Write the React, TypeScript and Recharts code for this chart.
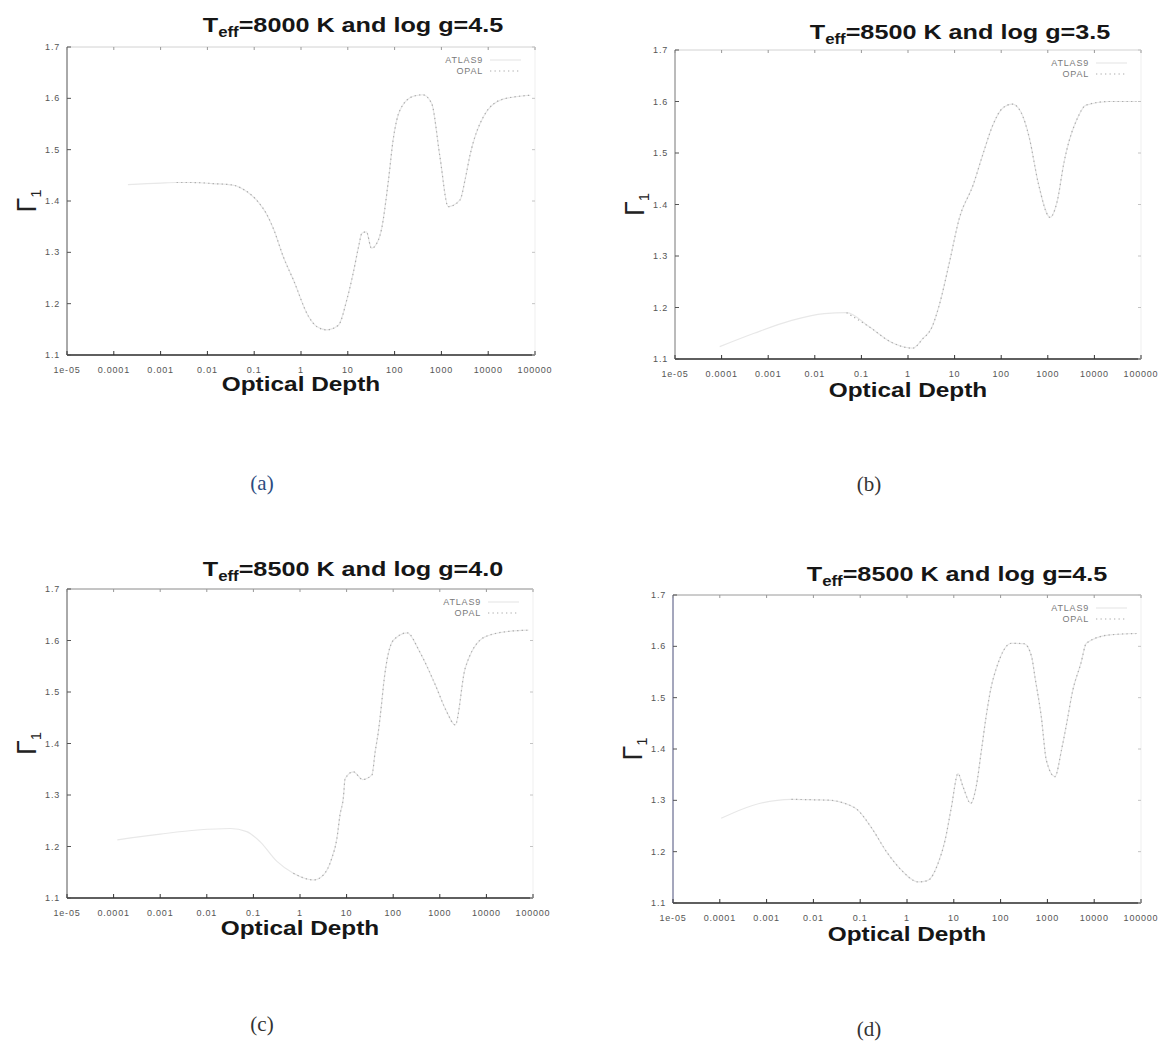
import React from 'react';
import { LineChart, Line, XAxis, YAxis, ReferenceLine } from 'recharts';

const FONT = '"Liberation Sans", Arial, Helvetica, sans-serif';
const SERIF = '"Liberation Serif", "DejaVu Serif", serif';

// Shared axes
const TAU_TICKS = [1e-5, 1e-4, 1e-3, 1e-2, 1e-1, 1, 10, 100, 1000, 10000, 100000];
const TAU_TICK_LABELS = ['1e-05', '0.0001', '0.001', '0.01', '0.1', '1', '10', '100', '1000', '10000', '100000'];
const GAMMA_TICKS = [1.1, 1.2, 1.3, 1.4, 1.5, 1.6, 1.7];
const GAMMA_TICK_LABELS = ['1.1', '1.2', '1.3', '1.4', '1.5', '1.6', '1.7'];
const SERIES_NAMES = ['ATLAS9', 'OPAL'];

// (a) Teff = 8000 K, log g = 4.5
const TAU_A = [2.0e-4, 1.0e-3, 2.2e-3, 5.0e-3, 1.3e-2, 3.5e-2, 6.3e-2, 0.13, 0.18, 0.26, 0.42, 0.69, 1.45, 2.2, 3.5, 6.3, 9.5, 13, 17, 20, 25, 32, 45, 52, 74, 93, 130, 250, 400, 620, 930, 1400, 2500, 3200, 4100, 8000, 20000, 80000];
const ATLAS_A = [1.432, 1.435, 1.436, 1.436, 1.434, 1.431, 1.421, 1.395, 1.376, 1.345, 1.291, 1.246, 1.175, 1.155, 1.149, 1.158, 1.207, 1.259, 1.311, 1.337, 1.340, 1.308, 1.324, 1.343, 1.441, 1.519, 1.577, 1.604, 1.607, 1.590, 1.486, 1.389, 1.402, 1.441, 1.490, 1.565, 1.598, 1.606];
const OPAL_A = [null, null, 1.436, 1.436, 1.434, 1.431, 1.421, 1.395, 1.376, 1.345, 1.291, 1.246, 1.175, 1.155, 1.149, 1.158, 1.207, 1.259, 1.311, 1.337, 1.340, 1.308, 1.324, 1.343, 1.441, 1.519, 1.577, 1.604, 1.607, 1.590, 1.486, 1.389, 1.402, 1.441, 1.490, 1.565, 1.598, 1.606];

// (b) Teff = 8500 K, log g = 3.5
const TAU_B = [9.1e-5, 5.0e-4, 3.2e-3, 1.6e-2, 4.8e-2, 0.15, 0.45, 1.26, 2.1, 3.2, 4.7, 7.8, 12.6, 25, 40, 66, 107, 174, 263, 400, 630, 1120, 1580, 2240, 2800, 4200, 6600, 20000, 80000];
const ATLAS_B = [1.124, 1.150, 1.175, 1.188, 1.190, 1.162, 1.132, 1.121, 1.140, 1.160, 1.205, 1.289, 1.373, 1.438, 1.496, 1.554, 1.587, 1.595, 1.580, 1.530, 1.440, 1.375, 1.405, 1.483, 1.520, 1.565, 1.593, 1.600, 1.600];
const OPAL_B = [null, null, null, null, 1.190, 1.162, 1.132, 1.121, 1.140, 1.160, 1.205, 1.289, 1.373, 1.438, 1.496, 1.554, 1.587, 1.595, 1.580, 1.530, 1.440, 1.375, 1.405, 1.483, 1.520, 1.565, 1.593, 1.600, 1.600];

// (c) Teff = 8500 K, log g = 4.0
const TAU_C = [1.2e-4, 1.0e-3, 6.3e-3, 3.2e-2, 7.2e-2, 0.14, 0.32, 0.72, 1.95, 3.2, 4.8, 6.2, 7.2, 8.5, 9.3, 14, 22, 35, 41, 48, 56, 62, 100, 200, 370, 790, 1400, 2140, 3500, 9300, 32000, 80000];
const ATLAS_C = [1.213, 1.224, 1.232, 1.235, 1.229, 1.209, 1.171, 1.148, 1.135, 1.145, 1.177, 1.216, 1.261, 1.294, 1.332, 1.345, 1.330, 1.339, 1.384, 1.423, 1.475, 1.514, 1.600, 1.615, 1.578, 1.515, 1.462, 1.436, 1.546, 1.607, 1.618, 1.620];
const OPAL_C = [null, null, null, null, null, null, null, 1.148, 1.135, 1.145, 1.177, 1.216, 1.261, 1.294, 1.332, 1.345, 1.330, 1.339, 1.384, 1.423, 1.475, 1.514, 1.600, 1.615, 1.578, 1.515, 1.462, 1.436, 1.546, 1.607, 1.618, 1.620];

// (d) Teff = 8500 K, log g = 4.5
const TAU_D = [1.07e-4, 5.0e-4, 3.4e-3, 1.07e-2, 2.4e-2, 4.7e-2, 8.9e-2, 0.17, 0.39, 0.76, 1.74, 2.8, 4.6, 6.5, 8.9, 12.3, 15.8, 23, 30, 39, 49, 63, 81, 170, 320, 460, 540, 740, 950, 1450, 2000, 2500, 3500, 5200, 6800, 20000, 80000];
const ATLAS_D = [1.265, 1.290, 1.302, 1.301, 1.300, 1.294, 1.281, 1.248, 1.196, 1.164, 1.141, 1.144, 1.177, 1.222, 1.287, 1.352, 1.326, 1.294, 1.326, 1.398, 1.463, 1.521, 1.557, 1.606, 1.605, 1.580, 1.541, 1.463, 1.378, 1.346, 1.398, 1.443, 1.515, 1.567, 1.606, 1.622, 1.625];
const OPAL_D = [null, null, 1.302, 1.301, 1.300, 1.294, 1.281, 1.248, 1.196, 1.164, 1.141, 1.144, 1.177, 1.222, 1.287, 1.352, 1.326, 1.294, 1.326, 1.398, 1.463, 1.521, 1.557, 1.606, 1.605, 1.580, 1.541, 1.463, 1.378, 1.346, 1.398, 1.443, 1.515, 1.567, 1.606, 1.622, 1.625];

const PANELS = [
  {
    caption: '(a)', teff: '8000', logg: '4.5',
    box: { left: 67, top: 47, right: 535, bottom: 355 },
    tau: TAU_A, atlas: ATLAS_A, opal: OPAL_A,
    titleX: 353, titleY: 32, xLabelY: 391, capX: 262, capY: 490,
    capColor: '#2d4b80', topBorder: '#d2d2d2', leftAxis: '#555',
  },
  {
    caption: '(b)', teff: '8500', logg: '3.5',
    box: { left: 675, top: 50, right: 1141, bottom: 359 },
    tau: TAU_B, atlas: ATLAS_B, opal: OPAL_B,
    titleX: 960, titleY: 39, xLabelY: 397, capX: 869, capY: 491,
    capColor: '#333', topBorder: '#d2d2d2', leftAxis: '#777',
  },
  {
    caption: '(c)', teff: '8500', logg: '4.0',
    box: { left: 67, top: 589, right: 533, bottom: 898 },
    tau: TAU_C, atlas: ATLAS_C, opal: OPAL_C,
    titleX: 353, titleY: 576, xLabelY: 935, capX: 262, capY: 1031,
    capColor: '#333', topBorder: '#8a8a8a', leftAxis: '#555',
  },
  {
    caption: '(d)', teff: '8500', logg: '4.5',
    box: { left: 673, top: 595, right: 1141, bottom: 903 },
    tau: TAU_D, atlas: ATLAS_D, opal: OPAL_D,
    titleX: 957, titleY: 581, xLabelY: 941, capX: 869, capY: 1036,
    capColor: '#333', topBorder: '#9a9a9a', leftAxis: '#4a4f7a',
  },
];

const PAD_L = 60;
const PAD_T = 10;
const PAD_R = 40;
const PAD_B = 40;
const Y_AXIS_W = 40;
const X_AXIS_H = 30;

// The gnuplot output was printed with wide lettering; text is stretched horizontally to suit
const TEXT_STRETCH = 1.2;

const ATLAS_STROKE = '#e8e8e8';
const OPAL_STROKE = '#ababab';
const OPAL_DASH = '1.3 3.2';

function labelFor(list: number[], labels: string[], v: number) {
  const i = list.findIndex((t) => Math.abs(t - v) <= Math.abs(t) * 1e-6);
  return i >= 0 ? labels[i] : String(v);
}

// Bottom-axis tick: inward mark at the axis, mirrored mark at the top border, gnuplot-style label
function XTick(props: any) {
  const { x, y, payload, top } = props;
  return (
    <g>
      <line x1={x} x2={x} y1={y} y2={y - 4} stroke="#333" strokeWidth={1} />
      <line x1={x} x2={x} y1={top} y2={top + 3} stroke="#999" strokeWidth={1} />
      <text
        x={x}
        y={y + 18}
        textAnchor="middle"
        fontSize={9}
        letterSpacing={0.8}
        fill="#555"
        fontFamily={FONT}
      >
        {labelFor(TAU_TICKS, TAU_TICK_LABELS, payload.value)}
      </text>
    </g>
  );
}

// Left-axis tick: inward mark, mirrored mark on the right border, label to the left
function YTick(props: any) {
  const { x, y, payload, right } = props;
  return (
    <g>
      <line x1={x} x2={x + 4} y1={y} y2={y} stroke="#555" strokeWidth={1} />
      <line x1={right} x2={right - 3} y1={y} y2={y} stroke="#c4c4c4" strokeWidth={1} />
      <text
        x={x - 7}
        y={y + 3}
        textAnchor="end"
        fontSize={9}
        letterSpacing={0.8}
        fill="#555"
        fontFamily={FONT}
      >
        {labelFor(GAMMA_TICKS, GAMMA_TICK_LABELS, payload.value)}
      </text>
    </g>
  );
}

function Panel({ p }: { p: any }) {
  const { box } = p;
  const w = box.right - box.left + PAD_L + PAD_R;
  const h = box.bottom - box.top + PAD_T + PAD_B;
  const rows = p.tau.map((tau: number, i: number) => ({ tau, atlas: p.atlas[i], opal: p.opal[i] }));
  return (
    <div style={{ position: 'absolute', left: box.left - PAD_L, top: box.top - PAD_T }}>
      <LineChart
        width={w}
        height={h}
        data={rows}
        margin={{ top: PAD_T, right: PAD_R, bottom: PAD_B - X_AXIS_H, left: PAD_L - Y_AXIS_W }}
      >
        <XAxis
          type="number"
          dataKey="tau"
          scale="log"
          domain={[1e-5, 1e5]}
          ticks={TAU_TICKS}
          interval={0}
          allowDataOverflow
          height={X_AXIS_H}
          tickSize={0}
          tickMargin={0}
          tickLine={false}
          axisLine={{ stroke: '#2a2a2a', strokeWidth: 1.4 }}
          tick={(tp: any) => <XTick {...tp} top={PAD_T} />}
        />
        <YAxis
          type="number"
          domain={[1.1, 1.7]}
          ticks={GAMMA_TICKS}
          interval={0}
          allowDataOverflow
          width={Y_AXIS_W}
          tickSize={0}
          tickMargin={0}
          tickLine={false}
          axisLine={{ stroke: p.leftAxis, strokeWidth: 1 }}
          tick={(tp: any) => <YTick {...tp} right={w - PAD_R} />}
        />
        <ReferenceLine y={1.7} stroke={p.topBorder} strokeWidth={1} />
        <ReferenceLine x={1e5} stroke="#efefef" strokeWidth={1} />
        <Line
          name={SERIES_NAMES[0]}
          dataKey="atlas"
          type="monotone"
          stroke={ATLAS_STROKE}
          strokeWidth={1.2}
          dot={false}
          connectNulls={false}
          isAnimationActive={false}
        />
        <Line
          name={SERIES_NAMES[1]}
          dataKey="opal"
          type="monotone"
          stroke={OPAL_STROKE}
          strokeWidth={1.2}
          strokeDasharray={OPAL_DASH}
          dot={false}
          connectNulls={false}
          isAnimationActive={false}
        />
      </LineChart>
    </div>
  );
}

function Annotations() {
  return (
    <svg
      width={1165}
      height={1050}
      style={{ position: 'absolute', left: 0, top: 0, pointerEvents: 'none' }}
    >
      {PANELS.map((p) => {
        const { box } = p;
        const midX = (box.left + box.right) / 2;
        const midY = (box.top + box.bottom) / 2;
        const gx = box.left - 31;
        const legendEnd = box.right - 52;
        return (
          <g key={p.caption}>
            <g transform={`translate(${p.titleX} ${p.titleY}) scale(${TEXT_STRETCH} 1)`}>
              <text x={0} y={0} textAnchor="middle" fontSize={21} fontWeight="bold" fill="#161616" fontFamily={FONT}>
                T<tspan fontSize={14} dy={5}>eff</tspan>
                <tspan dy={-5}>{`=${p.teff} K and log g=${p.logg}`}</tspan>
              </text>
            </g>
            <g transform={`translate(${midX} ${p.xLabelY}) scale(${TEXT_STRETCH + 0.02} 1)`}>
              <text x={0} y={0} textAnchor="middle" fontSize={20} fontWeight="bold" fill="#161616" fontFamily={FONT}>
                Optical Depth
              </text>
            </g>
            <text
              x={gx}
              y={midY}
              transform={`rotate(-90 ${gx} ${midY})`}
              textAnchor="middle"
              fontSize={27}
              fill="#222"
              fontFamily={FONT}
            >
              Γ<tspan fontSize={15} dy={5}>1</tspan>
            </text>
            <text
              x={legendEnd}
              y={box.top + 16}
              textAnchor="end"
              fontSize={9}
              letterSpacing={0.8}
              fill="#7a7a7a"
              fontFamily={FONT}
            >
              {SERIES_NAMES[0]}
            </text>
            <line x1={box.right - 45} x2={box.right - 14} y1={box.top + 13} y2={box.top + 13} stroke={ATLAS_STROKE} strokeWidth={1.2} />
            <text
              x={legendEnd}
              y={box.top + 27}
              textAnchor="end"
              fontSize={9}
              letterSpacing={0.8}
              fill="#7a7a7a"
              fontFamily={FONT}
            >
              {SERIES_NAMES[1]}
            </text>
            <line
              x1={box.right - 45}
              x2={box.right - 14}
              y1={box.top + 24}
              y2={box.top + 24}
              stroke={OPAL_STROKE}
              strokeWidth={1.2}
              strokeDasharray={OPAL_DASH}
            />
            <text x={p.capX} y={p.capY} textAnchor="middle" fontSize={21} fill={p.capColor} fontFamily={SERIF}>
              {p.caption}
            </text>
          </g>
        );
      })}
    </svg>
  );
}

export default function App() {
  return (
    <div style={{ position: 'absolute', left: 0, top: 0, width: 1165, height: 1050, background: '#fff' }}>
      {PANELS.map((p) => (
        <Panel key={p.caption} p={p} />
      ))}
      <Annotations />
    </div>
  );
}
